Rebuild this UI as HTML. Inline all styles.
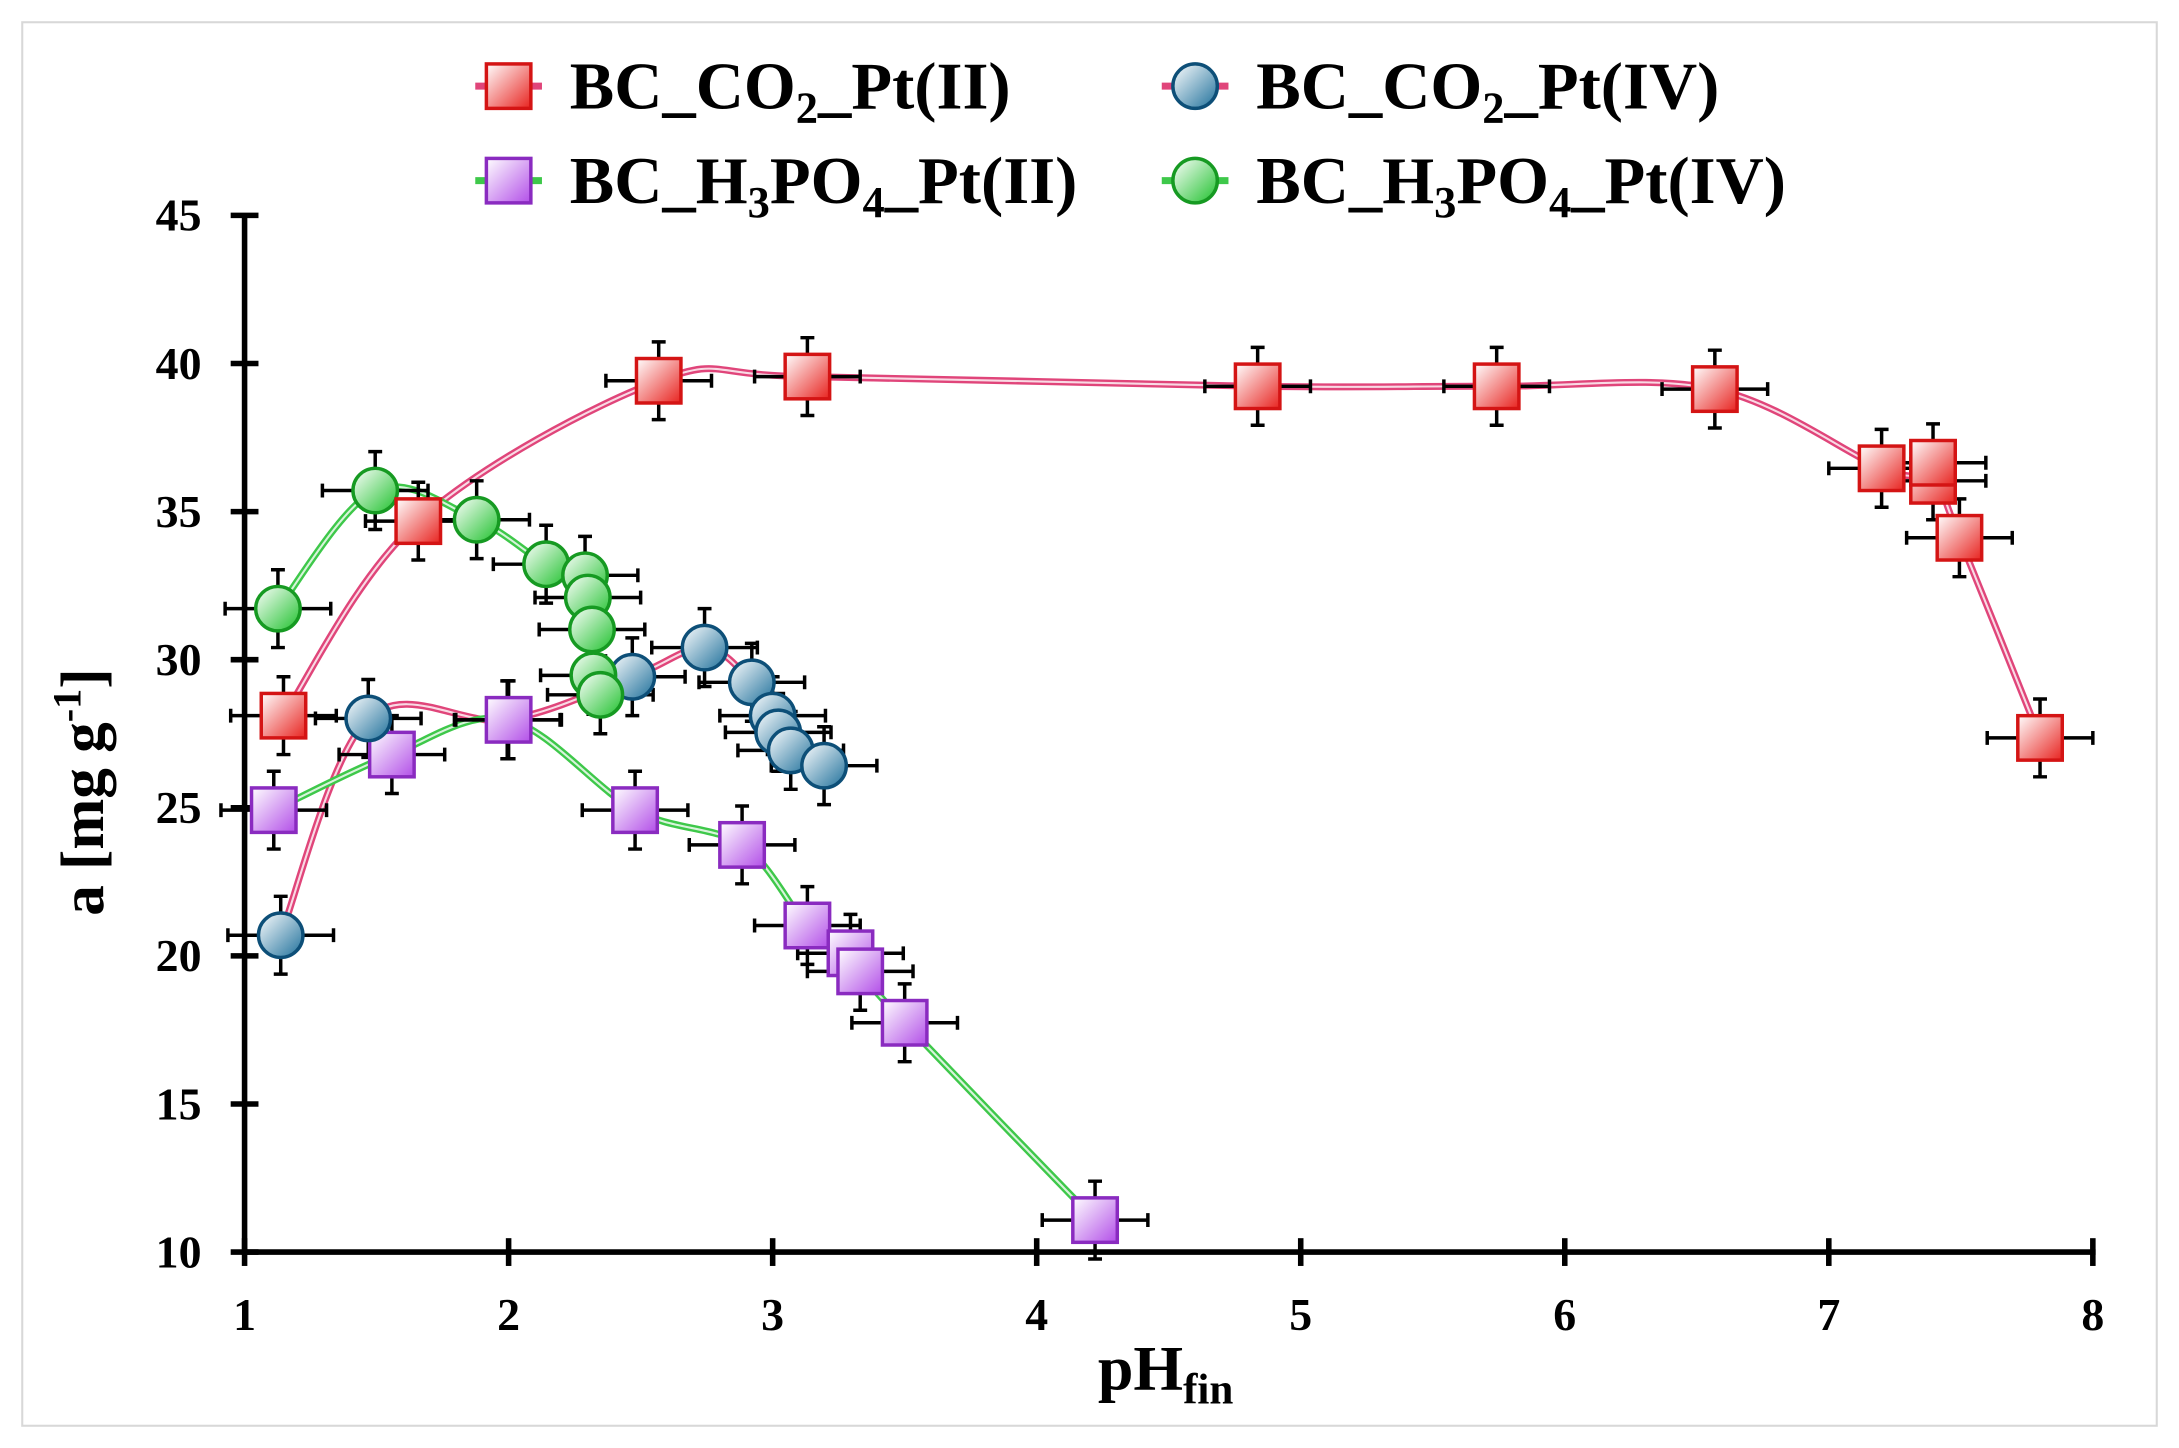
<!DOCTYPE html>
<html><head><meta charset="utf-8"><style>
html,body{margin:0;padding:0;background:#fff;}
svg{display:block;}
text{font-family:"Liberation Serif",serif;font-weight:bold;fill:#000;}
</style></head><body>
<svg id="s" width="2179" height="1448" viewBox="0 0 1568 1042" preserveAspectRatio="none" xmlns="http://www.w3.org/2000/svg">
<defs>
<linearGradient id="gr" x1="0" y1="0" x2="1" y2="1"><stop offset="0" stop-color="#fff"/><stop offset="1" stop-color="#e8231f"/></linearGradient>
<linearGradient id="gp" x1="0" y1="0" x2="1" y2="1"><stop offset="0" stop-color="#fff"/><stop offset="1" stop-color="#b24ee8"/></linearGradient>
<linearGradient id="gb" x1="0" y1="0" x2="1" y2="1"><stop offset="0" stop-color="#fff"/><stop offset="1" stop-color="#1d6f9a"/></linearGradient>
<linearGradient id="gg" x1="0" y1="0" x2="1" y2="1"><stop offset="0" stop-color="#fff"/><stop offset="1" stop-color="#1ec12c"/></linearGradient>
</defs>
<rect x="16" y="16" width="1536" height="1010" fill="none" stroke="#d8d8d8" stroke-width="1.5"/>
<g id="axes"></g>
<g id="plot"></g>
<g id="leg"></g>
</svg>
<script>
const NS="http://www.w3.org/2000/svg";
function el(p,t,a,txt){const e=document.createElementNS(NS,t);for(const k in a)e.setAttribute(k,a[k]);if(txt!==undefined)e.innerHTML=txt;document.getElementById(p).appendChild(e);return e;}
el('axes','line',{x1:176,y1:155,x2:176,y2:903,stroke:'#000','stroke-width':4});
el('axes','line',{x1:174,y1:901,x2:1508,y2:901,stroke:'#000','stroke-width':4});
for(let i=0;i<=7;i++){const v=10+5*i,y=901-i*106.57;
 el('axes','line',{x1:166,y1:y,x2:186,y2:y,stroke:'#000','stroke-width':4});
 el('axes','text',{x:145,y:y+11,'font-size':33,'text-anchor':'end'},v);}
for(let i=0;i<=7;i++){const x=176+i*190;
 el('axes','line',{x1:x,y1:891,x2:x,y2:911,stroke:'#000','stroke-width':4});
 el('axes','text',{x:x,y:957,'font-size':33,'text-anchor':'middle'},i+1);}
el('axes','text',{x:790,y:1000,'font-size':46},'pH<tspan font-size="31" dy="10">fin</tspan>');
el('axes','text',{x:0,y:0,'font-size':44,'text-anchor':'middle',transform:'translate(74,570) rotate(-90)'},'a [mg g<tspan font-size="29" dy="-16">-1</tspan><tspan dy="16">]</tspan>');
function cr(p){let d=`M${p[0][0]},${p[0][1]}`;for(let i=0;i<p.length-1;i++){const p0=p[i-1]||p[i],p1=p[i],p2=p[i+1],p3=p[i+2]||p2;
 d+=` C${p1[0]+(p2[0]-p0[0])/6},${p1[1]+(p2[1]-p0[1])/6} ${p2[0]-(p3[0]-p1[0])/6},${p2[1]-(p3[1]-p1[1])/6} ${p2[0]},${p2[1]}`;}return d;}
function line(p,c){const d=cr(p);el('plot','path',{d:d,fill:'none',stroke:c,'stroke-width':5});el('plot','path',{d:d,fill:'none',stroke:'#fff','stroke-width':1.5,opacity:.8});}
function eb(x,y){el('plot','path',{d:`M${x-38},${y}H${x+38}M${x-38},${y-5}v10M${x+38},${y-5}v10M${x},${y-28}V${y+28}M${x-5},${y-28}h10M${x-5},${y+28}h10`,stroke:'#000','stroke-width':2.5,fill:'none'});}
function sq(x,y,g,s){el('plot','rect',{x:x-16,y:y-16,width:32,height:32,fill:`url(#${g})`,stroke:s,'stroke-width':2.5});}
function ci(x,y,g,s){el('plot','circle',{cx:x,cy:y,r:16,fill:`url(#${g})`,stroke:s,'stroke-width':2.5});}
const R=[[204,515],[301,375],[474,274],[581,271],[905,278],[1077,278],[1234,280],[1354,337],[1391,346],[1410,387],[1468,531]];
const B=[[202,673],[265,517],[365,518],[455,487],[507,466],[541,491],[556,515],[560,527],[569,540],[593,551]];
const P=[[197,583],[282,543],[366,518],[457,583],[534,608],[581,666],[612,686],[619,699],[651,736],[788,878]];
const G=[[200,438],[270,353],[343,374],[393,406],[421,414],[423,430],[426,453],[427,486],[432,500]];
line(R,'#e0457a');line(B,'#e0457a');line(P,'#3ec84a');line(G,'#3ec84a');
[...R,[1391,333]].forEach(p=>eb(...p));B.forEach(p=>eb(...p));P.forEach(p=>eb(...p));G.forEach(p=>eb(...p));
P.forEach(p=>sq(...p,'gp','#8a2bc0'));
B.filter((p,i)=>i!=2).forEach(p=>ci(...p,'gb','#0d4f78'));
G.forEach(p=>ci(...p,'gg','#169a22'));
[...R,[1391,333]].forEach(p=>sq(...p,'gr','#d41414'));
function lg(x,y,type,lc,g,s,label){el('leg','line',{x1:x-24,y1:y,x2:x+24,y2:y,stroke:lc,'stroke-width':5});
 if(type=='s')el('leg','rect',{x:x-16,y:y-16,width:32,height:32,fill:`url(#${g})`,stroke:s,'stroke-width':2.5});
 else el('leg','circle',{cx:x,cy:y,r:16,fill:`url(#${g})`,stroke:s,'stroke-width':2.5});
 el('leg','text',{x:x+44,y:y+16,'font-size':48},label);}
lg(366,62,'s','#e0457a','gr','#d41414','BC_CO<tspan font-size="32" dy="10">2</tspan><tspan dy="-10">_Pt(II)</tspan>');
lg(860,62,'c','#e0457a','gb','#0d4f78','BC_CO<tspan font-size="32" dy="10">2</tspan><tspan dy="-10">_Pt(IV)</tspan>');
lg(366,130,'s','#3ec84a','gp','#8a2bc0','BC_H<tspan font-size="32" dy="10">3</tspan><tspan dy="-10">PO</tspan><tspan font-size="32" dy="10">4</tspan><tspan dy="-10">_Pt(II)</tspan>');
lg(860,130,'c','#3ec84a','gg','#169a22','BC_H<tspan font-size="32" dy="10">3</tspan><tspan dy="-10">PO</tspan><tspan font-size="32" dy="10">4</tspan><tspan dy="-10">_Pt(IV)</tspan>');
</script>
</body></html>
